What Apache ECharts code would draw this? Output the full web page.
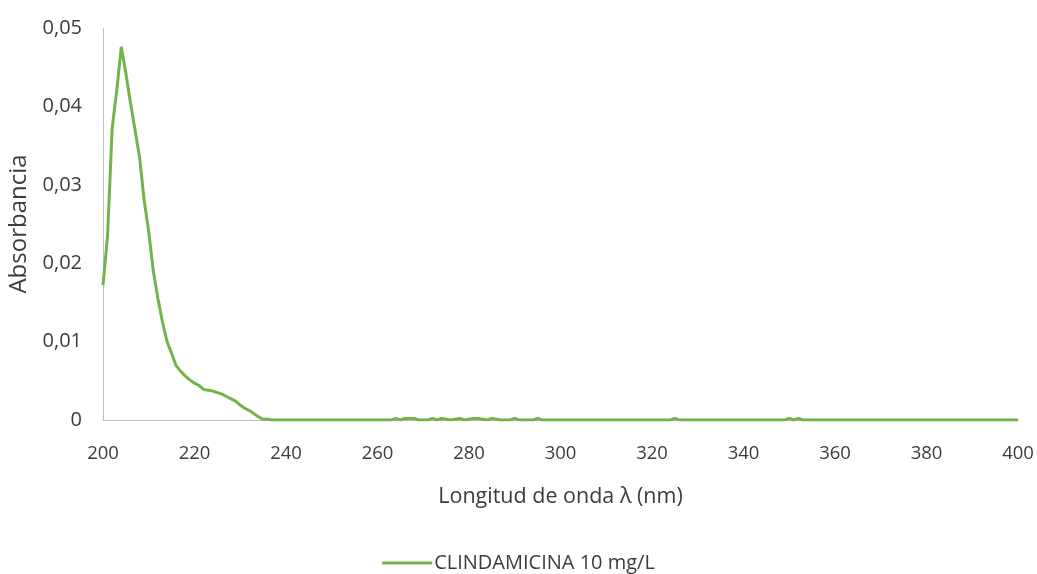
<!DOCTYPE html>
<html>
<head>
<meta charset="utf-8">
<script src="https://cdn.jsdelivr.net/npm/echarts@6/dist/echarts.min.js"></script>
<style>
  html, body { margin: 0; padding: 0; background: #fff; }
  #chart { width: 1037px; height: 574px; }
</style>
</head>
<body>
<div id="chart"></div>
<script>
// UV spectrum of clindamycin, 10 mg/L
const seriesName = 'CLINDAMICINA 10 mg/L';

const wavelength = [
  200, 201, 202, 203, 204, 205, 206, 207, 208, 209,
  210, 211, 212, 213, 214, 215, 216, 217, 218, 219,
  220, 221, 222, 223, 224, 225, 226, 227, 228, 229,
  230, 231, 232, 233, 234, 235, 236, 237, 238,
  263, 264, 265, 266, 267, 268, 269, 271, 272, 273, 274, 275, 276,
  278, 279, 281, 282, 283, 284, 285, 286, 287, 289, 290, 291,
  294, 295, 296, 324, 325, 326, 349, 350, 351, 352, 353, 400
];

const absorbance = [
  0.0172, 0.0235, 0.0372, 0.0420, 0.0476, 0.0442, 0.0405, 0.0370, 0.0335, 0.0280,
  0.0240, 0.0190, 0.0155, 0.0125, 0.0100, 0.0085, 0.0069, 0.0062, 0.0056, 0.0051,
  0.0047, 0.0044, 0.0039, 0.0038, 0.0037, 0.0035, 0.0033, 0.0030, 0.0027, 0.0024,
  0.0019, 0.0015, 0.0012, 0.0008, 0.0004, 0.0001, 0.0001, 0.0000, 0.0000,
  0.0000, 0.0002, 0.0000, 0.0002, 0.0002, 0.0002, 0.0000, 0.0000, 0.0002, 0.0000, 0.0002, 0.0001, 0.0000,
  0.0002, 0.0000, 0.0002, 0.0002, 0.0001, 0.0000, 0.0002, 0.0001, 0.0000, 0.0000, 0.0002, 0.0000,
  0.0000, 0.0002, 0.0000, 0.0000, 0.0002, 0.0000, 0.0000, 0.0002, 0.0000, 0.0002, 0.0000, 0.0000
];

const xTicks = { min: 200, max: 400, interval: 20 };
const yTicks = { min: 0, max: 0.05, interval: 0.01 };

const points = wavelength.map((w, i) => [w, absorbance[i]]);

const textColor = '#3c3c3c';
const lineColor = '#72b44b';
const fontFamily = '"Open Sans", "Noto Sans", sans-serif';

const chart = echarts.init(document.getElementById('chart'), null, { renderer: 'canvas' });

chart.setOption({
  backgroundColor: '#ffffff',
  animation: false,
  textStyle: { fontFamily: fontFamily, color: textColor },
  grid: { left: 103, right: 19, top: 28, bottom: 154, containLabel: false, outerBoundsMode: 'none' },
  xAxis: {
    type: 'value',
    min: xTicks.min, max: xTicks.max, interval: xTicks.interval,
    name: 'Longitud de onda λ (nm)',
    nameLocation: 'middle',
    nameGap: 66,
    nameTextStyle: { fontSize: 21.5, color: textColor, fontFamily: fontFamily },
    axisLine: { show: true, lineStyle: { color: '#bfbfbf', width: 1 } },
    axisTick: { show: false },
    splitLine: { show: false },
    axisLabel: { fontSize: 18.5, color: textColor, margin: 24, fontFamily: fontFamily }
  },
  yAxis: {
    type: 'value',
    min: yTicks.min, max: yTicks.max, interval: yTicks.interval,
    name: 'Absorbancia',
    nameLocation: 'middle',
    nameGap: 71,
    nameRotate: 90,
    nameTextStyle: { fontSize: 24, color: textColor, fontFamily: fontFamily },
    axisLine: { show: true, lineStyle: { color: '#bfbfbf', width: 1 } },
    axisTick: { show: false },
    splitLine: { show: false },
    axisLabel: {
      fontSize: 20, color: textColor, margin: 21, fontFamily: fontFamily,
      formatter: v => (v === 0 ? '0' : v.toFixed(2).replace('.', ','))
    }
  },
  legend: {
    top: 548,
    left: 'center',
    icon: 'rect',
    itemWidth: 50,
    itemHeight: 3,
    itemGap: 10,
    textStyle: { fontSize: 20, color: textColor, fontFamily: fontFamily, padding: [0, 0, 0, -3] },
    data: [seriesName]
  },
  series: [{
    name: seriesName,
    type: 'line',
    data: points,
    showSymbol: false,
    symbol: 'none',
    smooth: false,
    lineStyle: { color: lineColor, width: 3 },
    itemStyle: { color: lineColor }
  }]
});
</script>
</body>
</html>
